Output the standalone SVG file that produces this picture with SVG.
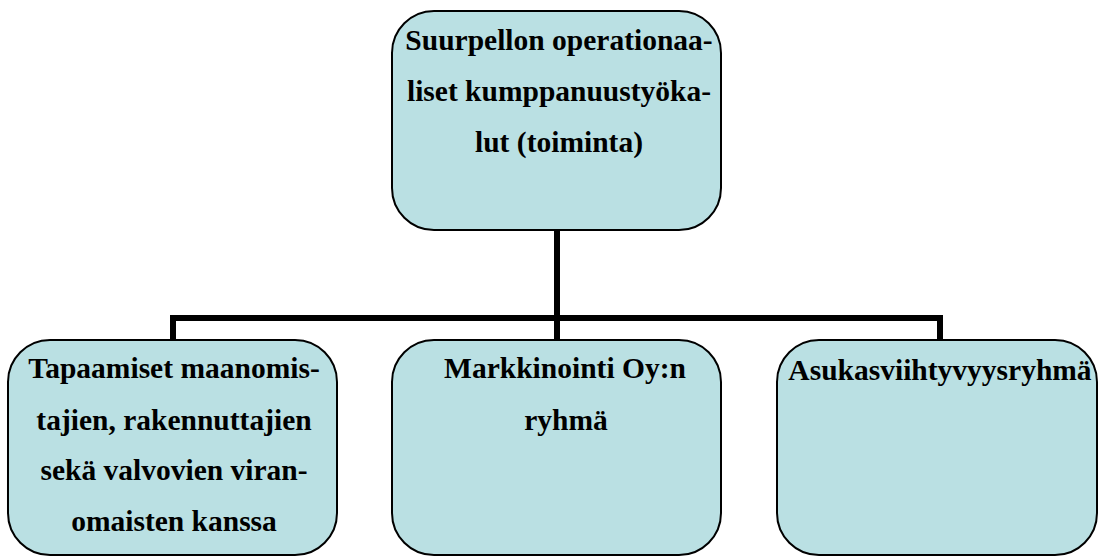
<svg xmlns="http://www.w3.org/2000/svg" width="1099" height="557" viewBox="0 0 1099 557">
<style>
.box{fill:#BAE0E3;stroke:#000;stroke-width:2}
.c{fill:none;stroke:#000;stroke-width:6}
</style>
<rect width="1099" height="557" fill="#fff"/>
<g id="connectors">
<path class="c" d="M557,230 V358"/>
<path class="c" d="M173,340 V318 H940 V340"/>
</g>
<g font-family="'Liberation Serif', 'Times New Roman', serif" font-weight="bold" font-size="29.5" fill="#000" text-anchor="middle">
<g id="top">
<rect class="box" x="392" y="11" width="329" height="219" rx="42"/>
<text x="559" y="50">Suurpellon operationaa-</text>
<text x="559" y="101">liset kumppanuustyöka-</text>
<text x="559" y="152">lut (toiminta)</text>
</g>
<g id="left">
<rect class="box" x="8" y="340" width="329" height="215" rx="42"/>
<text x="174" y="378">Tapaamiset maanomis-</text>
<text x="174" y="430">tajien, rakennuttajien</text>
<text x="174" y="480">sekä valvovien viran-</text>
<text x="174" y="531">omaisten kanssa</text>
</g>
<g id="middle">
<rect class="box" x="392" y="340" width="329" height="215" rx="42"/>
<text x="565" y="378">Markkinointi Oy:n</text>
<text x="566" y="430">ryhmä</text>
</g>
<g id="right">
<rect class="box" x="777" y="340" width="320" height="215" rx="42"/>
<text x="940" y="380">Asukasviihtyvyysryhmä</text>
</g>
</g>
</svg>
